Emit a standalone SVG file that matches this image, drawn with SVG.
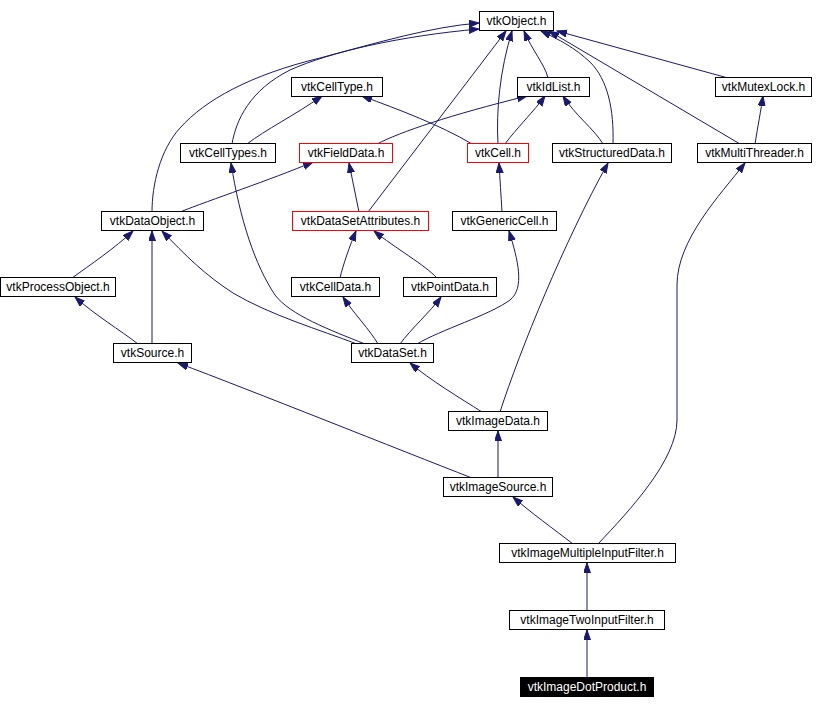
<svg xmlns="http://www.w3.org/2000/svg" width="818" height="709" viewBox="0 0 818 709">
<defs>
<style>
.n rect{fill:#fff;stroke:#000;stroke-width:1}
.n.r rect{stroke:#f00}
.n text{font-family:"Liberation Sans",Arial,sans-serif;font-size:12px;text-anchor:middle;fill:#000}
.n.f rect{fill:#000;stroke:#000}
.n.f text{fill:#fff}
.e path{fill:none;stroke:#191970;stroke-width:1;marker-end:url(#a)}
</style>
<marker id="a" markerWidth="11" markerHeight="8" refX="10" refY="3.5" orient="auto" markerUnits="userSpaceOnUse"><path d="M0,0 L10,3.5 L0,7 z" fill="#191970" stroke="#191970" stroke-width="1"/></marker>
</defs>
<rect width="818" height="709" fill="#fff"/>
<g id="edges" class="e">
<path d="M152,212 C152,185 160,150 180,128 C205,100 250,75 320,58 C380,42 430,27 479,23"/>
<path d="M232,144 C236,120 250,90 290,70 C330,52 400,36 479,29"/>
<path d="M368,212 L506,31"/>
<path d="M498,144 C496,110 500,70 512,31"/>
<path d="M548,78 C545,65 532,50 524,31"/>
<path d="M613,144 C614,110 608,80 590,62 C575,48 560,40 541,31"/>
<path d="M740,144 L549,31"/>
<path d="M728,78 L557,31"/>
<path d="M247,144 C265,130 295,115 322,96"/>
<path d="M472,144 C440,125 400,110 362,96"/>
<path d="M377,144 C400,132 450,115 527,96"/>
<path d="M505,144 C515,130 535,110 545,96"/>
<path d="M603,144 C595,130 575,115 563,96"/>
<path d="M755,144 C758,125 761,110 763,96"/>
<path d="M180,212 C210,200 270,180 313,162"/>
<path d="M359,212 L349,163"/>
<path d="M365,344 C330,330 290,315 275,295 C255,265 240,220 231,163"/>
<path d="M357,344 C320,330 270,315 233,293 C205,275 185,255 162,231"/>
<path d="M72,278 C90,265 115,248 133,231"/>
<path d="M152,344 L152,231"/>
<path d="M138,344 C120,330 95,315 75,297"/>
<path d="M340,278 C343,265 350,245 356,231"/>
<path d="M437,278 C425,265 395,248 374,231"/>
<path d="M378,344 C370,330 355,315 343,297"/>
<path d="M400,344 C410,330 430,312 441,297"/>
<path d="M417,344 C440,330 490,315 510,300 C525,288 518,260 509,231"/>
<path d="M502,212 C501,195 500,180 499,163"/>
<path d="M482,412 C460,398 430,380 410,363"/>
<path d="M500,412 C520,350 565,240 608,163"/>
<path d="M472,478 C400,450 250,390 178,363"/>
<path d="M498,478 L498,431"/>
<path d="M573,544 C555,530 530,512 513,497"/>
<path d="M598,544 C630,510 677,460 677,420 L677,285 C677,240 720,195 745,163"/>
<path d="M587,611 L587,563"/>
<path d="M587,677 L587,630"/>
</g>
<g id="vtkObject" class="n"><rect x="479.5" y="11.5" width="74" height="19"/><text x="516.5" y="24.5">vtkObject.h</text></g>
<g id="vtkCellType" class="n"><rect x="291.5" y="77.5" width="91" height="19"/><text x="337" y="90.5">vtkCellType.h</text></g>
<g id="vtkIdList" class="n"><rect x="517.5" y="77.5" width="72" height="19"/><text x="553.5" y="90.5">vtkIdList.h</text></g>
<g id="vtkMutexLock" class="n"><rect x="715.5" y="77.5" width="96" height="19"/><text x="763.5" y="90.5">vtkMutexLock.h</text></g>
<g id="vtkCellTypes" class="n"><rect x="180.5" y="143.5" width="95" height="19"/><text x="228" y="156.5">vtkCellTypes.h</text></g>
<g id="vtkFieldData" class="n r"><rect x="299.5" y="143.5" width="93" height="19"/><text x="346" y="156.5">vtkFieldData.h</text></g>
<g id="vtkCell" class="n r"><rect x="467.5" y="143.5" width="61" height="19"/><text x="498" y="156.5">vtkCell.h</text></g>
<g id="vtkStructuredData" class="n"><rect x="552.5" y="143.5" width="119" height="19"/><text x="612" y="156.5">vtkStructuredData.h</text></g>
<g id="vtkMultiThreader" class="n"><rect x="697.5" y="143.5" width="114" height="19"/><text x="754.5" y="156.5">vtkMultiThreader.h</text></g>
<g id="vtkDataObject" class="n"><rect x="101.5" y="211.5" width="102" height="19"/><text x="152.5" y="224.5">vtkDataObject.h</text></g>
<g id="vtkDataSetAttributes" class="n r"><rect x="292.5" y="211.5" width="136" height="19"/><text x="360.5" y="224.5">vtkDataSetAttributes.h</text></g>
<g id="vtkGenericCell" class="n"><rect x="452.5" y="211.5" width="104" height="19"/><text x="504.5" y="224.5">vtkGenericCell.h</text></g>
<g id="vtkProcessObject" class="n"><rect x="0.5" y="277.5" width="115" height="19"/><text x="58" y="290.5">vtkProcessObject.h</text></g>
<g id="vtkCellData" class="n"><rect x="291.5" y="277.5" width="88" height="19"/><text x="335.5" y="290.5">vtkCellData.h</text></g>
<g id="vtkPointData" class="n"><rect x="403.5" y="277.5" width="93" height="19"/><text x="450" y="290.5">vtkPointData.h</text></g>
<g id="vtkSource" class="n"><rect x="113.5" y="343.5" width="78" height="19"/><text x="152.5" y="356.5">vtkSource.h</text></g>
<g id="vtkDataSet" class="n"><rect x="351.5" y="343.5" width="82" height="19"/><text x="392.5" y="356.5">vtkDataSet.h</text></g>
<g id="vtkImageData" class="n"><rect x="448.5" y="411.5" width="99" height="19"/><text x="498" y="424.5">vtkImageData.h</text></g>
<g id="vtkImageSource" class="n"><rect x="443.5" y="477.5" width="109" height="19"/><text x="498" y="490.5">vtkImageSource.h</text></g>
<g id="vtkImageMultipleInputFilter" class="n"><rect x="499.5" y="543.5" width="176" height="19"/><text x="587.5" y="556.5">vtkImageMultipleInputFilter.h</text></g>
<g id="vtkImageTwoInputFilter" class="n"><rect x="509.5" y="610.5" width="155" height="19"/><text x="587" y="623.5">vtkImageTwoInputFilter.h</text></g>
<g id="vtkImageDotProduct" class="n f"><rect x="520.5" y="677.5" width="133" height="19"/><text x="587" y="690.5">vtkImageDotProduct.h</text></g>
</svg>
